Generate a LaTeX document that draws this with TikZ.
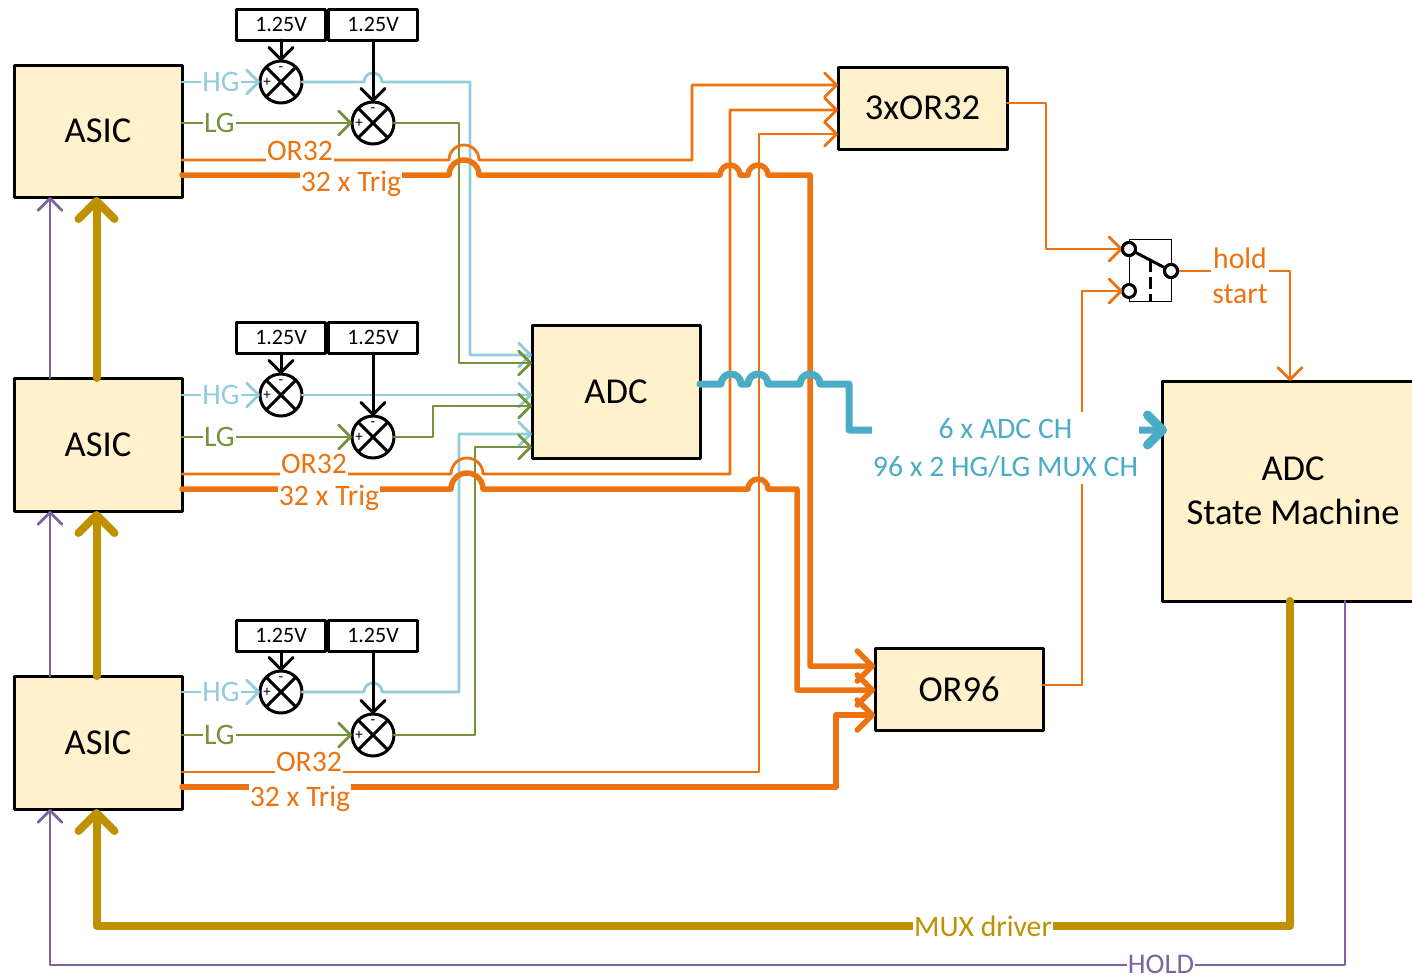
\documentclass[tikz,border=0pt]{standalone}
\usepackage{fontspec}
\setmainfont{Carlito}
\usepackage{tikz}
\usetikzlibrary{arrows.meta,positioning,calc}
\definecolor{boxfill}{RGB}{254,241,204}
\definecolor{hgblue}{RGB}{146,205,220}
\definecolor{lggreen}{RGB}{118,146,60}
\definecolor{trigorange}{RGB}{237,115,17}
\definecolor{adcblue}{RGB}{75,172,198}
\definecolor{muxgold}{RGB}{191,144,0}
\definecolor{holdpurple}{RGB}{128,100,162}

\begin{document}
\begin{tikzpicture}[
  x=1pt, y=-1pt,
  line cap=round, line join=round,
  blockbox/.style={draw=black, line width=3pt, fill=boxfill, outer sep=0pt, align=center, font=\fontsize{36.5}{44}\selectfont},
  refbox/.style={draw=black, line width=3pt, fill=white, outer sep=0pt, minimum width=89pt, minimum height=31pt, inner sep=0pt, font=\fontsize{22}{24}\selectfont},
  sumnode/.style={circle, draw=black, line width=3pt, fill=white, outer sep=0pt, inner sep=0pt, minimum size=42pt,
    path picture={\draw[line width=3pt] (path picture bounding box.north west) -- (path picture bounding box.south east);
      \draw[line width=3pt] (path picture bounding box.north east) -- (path picture bounding box.south west);}},
  signtext/.style={inner sep=0pt, font=\fontsize{15}{15}\selectfont},
  swpin/.style={circle, draw=black, line width=3pt, fill=white, outer sep=0pt, inner sep=0pt, minimum size=13pt},
  wirelabel/.style={fill=white, inner xsep=1pt, inner ysep=3pt, align=center, font=\fontsize{29.7}{36}\selectfont},
  thinbarb/.style={-{Straight Barb[length=12pt,width=24pt,round]}},
  hgwire/.style={thinbarb, draw=hgblue, line width=2.8pt},
  lgwire/.style={thinbarb, draw=lggreen, line width=2.8pt},
  orwire/.style={thinbarb, draw=trigorange, line width=2.8pt},
  trigwire/.style={-{Straight Barb[length=15pt,width=30pt,round]}, draw=trigorange, line width=5.5pt},
  adcwire/.style={-{Straight Barb[length=15pt,width=30pt,round,line width=9pt]}, draw=adcblue, line width=7pt},
  muxwire/.style={-{Straight Barb[length=18pt,width=36pt,round]}, draw=muxgold, line width=8pt},
  holdwire/.style={thinbarb, draw=holdpurple, line width=2.8pt},
  refwire/.style={thinbarb, draw=black, line width=3pt}
]
\useasboundingbox (0,0) rectangle (1412,977);
% blocks
\node[blockbox, minimum width=168pt, minimum height=132pt] (asicA) at (98,131) {ASIC};
\node[blockbox, minimum width=168pt, minimum height=133pt] (asicB) at (98,444.5) {ASIC};
\node[blockbox, minimum width=168pt, minimum height=133pt] (asicC) at (98,742.5) {ASIC};
\node[blockbox, minimum width=168pt, minimum height=133pt] (adc) at (616,391.5) {ADC};
\node[blockbox, minimum width=169pt, minimum height=82pt] (orA) at (922.5,108) {3xOR32};
\node[blockbox, minimum width=168pt, minimum height=82pt] (orB) at (959,689) {OR96};
\node[blockbox, minimum width=262pt, minimum height=220pt] (state) at (1293,491) {ADC\\State Machine};
% summing points and their references
\node[sumnode] (hgA) at (281,82) {};
\node[sumnode] (lgA) at (373,123) {};
\node[sumnode] (hgB) at (281,395) {};
\node[sumnode] (lgB) at (373,437) {};
\node[sumnode] (hgC) at (281,692) {};
\node[sumnode] (lgC) at (373,735) {};
\node[refbox, above=21pt of hgA] (refA) {1.25V};
\node[refbox, above=62pt of lgA] (refB) {1.25V};
\node[refbox, above=21pt of hgB] (refC) {1.25V};
\node[refbox, above=63pt of lgB] (refD) {1.25V};
\node[refbox, above=20pt of hgC] (refE) {1.25V};
\node[refbox, above=63pt of lgC] (refF) {1.25V};
\node[signtext] (hgAplus) at ([xshift=-14pt]hgA.center) {+};
\node[signtext] (hgAminus) at ([yshift=13pt]hgA.center) {-};
\node[signtext] (lgAplus) at ([xshift=-14pt]lgA.center) {+};
\node[signtext] (lgAminus) at ([yshift=13pt]lgA.center) {-};
\node[signtext] (hgBplus) at ([xshift=-14pt]hgB.center) {+};
\node[signtext] (hgBminus) at ([yshift=13pt]hgB.center) {-};
\node[signtext] (lgBplus) at ([xshift=-14pt]lgB.center) {+};
\node[signtext] (lgBminus) at ([yshift=13pt]lgB.center) {-};
\node[signtext] (hgCplus) at ([xshift=-14pt]hgC.center) {+};
\node[signtext] (hgCminus) at ([yshift=13pt]hgC.center) {-};
\node[signtext] (lgCplus) at ([xshift=-14pt]lgC.center) {+};
\node[signtext] (lgCminus) at ([yshift=13pt]lgC.center) {-};
% switch
\node[draw=black, line width=1pt, fill=white, outer sep=0pt, minimum width=42pt, minimum height=62pt] (swBox) at (1150,270.5) {};
\node[swpin] (swA) at (1129,249) {};
\node[swpin] (swB) at (1129,291) {};
\node[swpin] (swC) at (1171,271) {};
% HG and LG
\draw[hgwire] (asicA.east |- hgA) -- node[wirelabel, text=hgblue] (hgAlabel) {HG} (hgA.west);
\draw[hgwire] (asicB.east |- hgB) -- node[wirelabel, text=hgblue] (hgBlabel) {HG} (hgB.west);
\draw[hgwire] (asicC.east |- hgC) -- node[wirelabel, text=hgblue] (hgClabel) {HG} (hgC.west);
\draw[lgwire] (asicA.east |- lgA) -- node[pos=.22, wirelabel, text=lggreen] (lgAlabel) {LG} (lgA.west);
\draw[lgwire] (asicB.east |- lgB) -- node[pos=.22, wirelabel, text=lggreen] (lgBlabel) {LG} (lgB.west);
\draw[lgwire] (asicC.east |- lgC) -- node[pos=.22, wirelabel, text=lggreen] (lgClabel) {LG} (lgC.west);
\draw[hgwire] (hgA.east) -- (364,82) arc[start angle=180, end angle=0, radius=9pt] -- (470,82) -- (470,355) -- (adc.west |- 0,355);
\draw[hgwire] (hgB.east) -- (adc.west |- hgB);
\draw[hgwire] (hgC.east) -- (364,692) arc[start angle=180, end angle=0, radius=9pt] -- (459,692) -- (459,434) -- (adc.west |- 0,434);
\draw[lgwire] (lgA.east) -- (459,123) -- (459,363) -- (adc.west |- 0,363);
\draw[lgwire] (lgB.east) -- (433,437) -- (433,406) -- (adc.west |- 0,406);
\draw[lgwire] (lgC.east) -- (475,735) -- (475,447) -- (adc.west |- 0,447);
% OR32
\draw[orwire] (asicA.east |- 0,160) -- (449,160) arc[start angle=180, end angle=0, radius=15pt] -- (692,160) -- (692,85) -- (orA.west |- 0,85);
\draw[orwire] (asicB.east |- 0,474) -- (451,474) arc[start angle=180, end angle=0, radius=16pt] -- (730,474) -- (730,110) -- (orA.west |- 0,110);
\draw[orwire] (asicC.east |- 0,772) -- (759,772) -- (759,134) -- (orA.west |- 0,134);
% trig
\draw[trigwire] (asicA.east |- 0,175) -- (449,175) arc[start angle=180, end angle=0, radius=15pt] -- (720,175) arc[start angle=180, end angle=0, radius=10pt] -- (748,175) arc[start angle=180, end angle=0, radius=10pt] -- (810,175) -- (810,666) -- (orB.west |- 0,666);
\draw[trigwire] (asicB.east |- 0,489) -- (451,489) arc[start angle=180, end angle=0, radius=16pt] -- (748,489) arc[start angle=180, end angle=0, radius=10pt] -- (797,489) -- (797,690) -- (orB.west |- 0,690);
\draw[trigwire] (asicC.east |- 0,787) -- (836,787) -- (836,715) -- (orB.west |- 0,715);
% switch wiring
\draw[orwire] (orA.east |- 0,103) -- (1046,103) -- (1046,249) -- (swA.west);
\draw[orwire] (orB.east |- 0,685) -- (1082,685) -- (1082,291) -- (swB.west);
\draw[orwire] (swC.east) -- (1290,271) -- (1290,381);
\draw[black, line width=3pt] (swA) -- (swC);
\draw[black, line width=3pt, line cap=butt, dash pattern=on 12pt off 5pt] ($(swA)!0.5!(swC)$) -- (swBox.south);
\node[swpin] (swAtop) at (swA) {};
\node[swpin] (swCtop) at (swC) {};
% ADC out
\draw[adcwire] (adc.east |- 0,384) -- (721,384) arc[start angle=180, end angle=0, radius=10pt] -- (748,384) arc[start angle=180, end angle=0, radius=10pt] -- (800,384) arc[start angle=180, end angle=0, radius=10pt] -- (849,384) -- (849,430) -- (1167,430);
% mux and hold
\draw[muxwire] ([xshift=-1.5pt]asicC.north) -- ([xshift=-1.5pt]asicB.south);
\draw[muxwire] ([xshift=-1.5pt]asicB.north) -- ([xshift=-1.5pt]asicA.south);
\draw[muxwire] ([xshift=-3pt]state.south) -- (1290,926) -- (96.5,926) -- ([xshift=-1.5pt]asicC.south);
\draw[holdwire] (50,676) -- (50,511);
\draw[holdwire] (50,378) -- (50,197);
\draw[holdwire] (1345,601) -- (1345,965) -- (50,965) -- (50,809);
% references
\draw[refwire] (refA.south) -- (hgA.north);
\draw[refwire] (refB.south) -- (lgA.north);
\draw[refwire] (refC.south) -- (hgB.north);
\draw[refwire] (refD.south) -- (lgB.north);
\draw[refwire] (refE.south) -- (hgC.north);
\draw[refwire] (refF.south) -- (lgC.north);
% labels
\node[wirelabel, text=trigorange] (orAlabel) at (300,151) {OR32};
\node[wirelabel, text=trigorange] (trigAlabel) at (351,184) {32 x Trig};
\node[wirelabel, text=trigorange] (orBlabel) at (314,464) {OR32};
\node[wirelabel, text=trigorange] (trigBlabel) at (329,498) {32 x Trig};
\node[wirelabel, text=trigorange] (orClabel) at (309,762) {OR32};
\node[wirelabel, text=trigorange] (trigClabel) at (300,799) {32 x Trig};
\node[wirelabel, text=trigorange, font=\fontsize{29.7}{35}\selectfont] (holdlabel) at (1240,276) {hold\\start};
\node[wirelabel, text=adcblue, minimum height=72pt, font=\fontsize{29.7}{38}\selectfont] (adclabel) at (1005.5,448) {6 x ADC CH\\96 x 2 HG/LG MUX CH};
\node[wirelabel, text=muxgold] (muxlabel) at (983,926) {MUX driver};
\node[wirelabel, inner ysep=0pt, text=holdpurple, font=\fontsize{28.5}{30}\selectfont] (holdwirelabel) at (1161,964) {HOLD};
\end{tikzpicture}
\end{document}
